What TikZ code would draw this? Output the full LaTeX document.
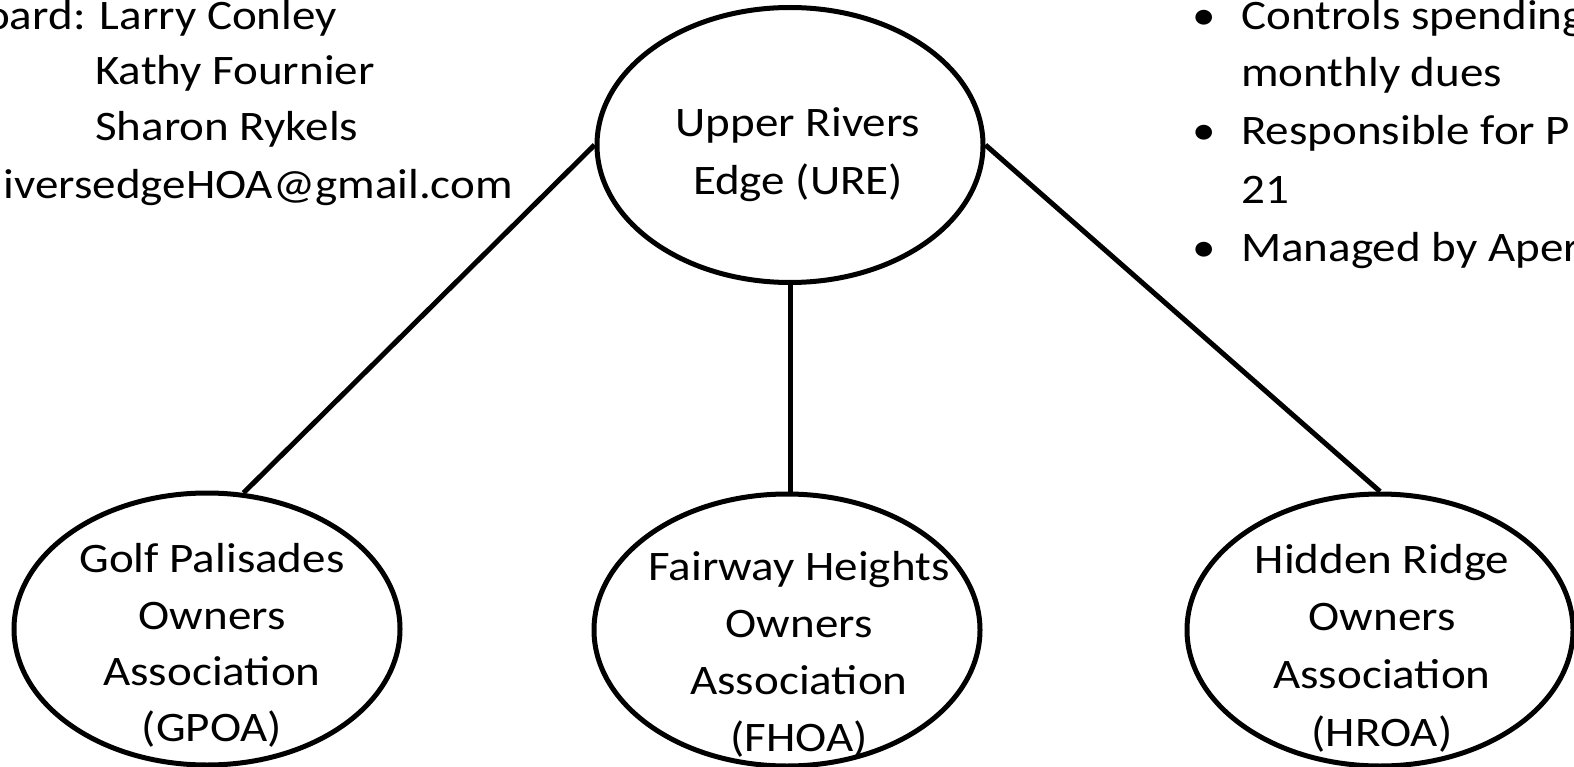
\documentclass[tikz,border=0pt]{standalone}
\usepackage{fontspec}
\setmainfont{Carlito}[FakeStretch=1.12]
\usetikzlibrary{shapes.geometric}
\begin{document}
\begin{tikzpicture}[x=1pt,y=-1pt,
  oval/.style={draw, ellipse, line width=5pt, minimum width=386pt, minimum height=272pt, inner sep=0pt},
  txt/.style={font=\fontsize{42}{57}\selectfont, inner sep=0pt, anchor=base},
  txtw/.style={txt, anchor=base west},
  txte/.style={txt, anchor=base east},
  link/.style={line width=5pt}]
\useasboundingbox (0,0) rectangle (1574,767);
\clip (0,0) rectangle (1574,767);
% ovals
\node[oval, minimum height=275pt] (ure) at (790,145) {};
\node[oval] (gpoa) at (207,629) {};
\node[oval] (fhoa) at (787,630) {};
\node[oval] (hroa) at (1380,630) {};
% connectors
\draw[link] (ure.west) -- (gpoa.75);
\draw[link] (ure.south) -- (ure.south |- fhoa.north);
\draw[link] (ure.east) -- (hroa.north);
% oval texts
\node[txt] (u1) at (798,137) {Upper Rivers};
\node[txt] (u2) at (798,195) {Edge (URE)};
\node[txt] (g1) at (212,572) {Golf Palisades};
\node[txt] (g2) at (212,629) {Owners};
\node[txt] (g3) at (212,685) {Association};
\node[txt] (g4) at (212,741) {(GPOA)};
\node[txt] (f1) at (799,580) {Fairway Heights};
\node[txt] (f2) at (799,637) {Owners};
\node[txt] (f3) at (799,694) {Association};
\node[txt] (f4) at (799,751) {(FHOA)};
\node[txt] (h1) at (1382,573) {Hidden Ridge};
\node[txt] (h2) at (1382,630) {Owners};
\node[txt] (h3) at (1382,688) {Association};
\node[txt] (h4) at (1382,746) {(HROA)};
% left board text
\node[txtw] (b1) at (-15,30) {oard: Larry Conley};
\node[txtw] (b2) at (95,85) {Kathy Fournier};
\node[txtw] (b3) at (95,141) {Sharon Rykels};
\node[txte] (b4) at (513,199) {iversedgeHOA@gmail.com};
% right bullet list
\node[txtw] (d1) at (1192,30) {•};
\node[txtw] (r1) at (1241,30) {Controls spending};
\node[txtw] (r2) at (1241,87) {monthly dues};
\node[txtw] (d2) at (1192,145) {•};
\node[txtw] (r3) at (1241,145) {Responsible for P};
\node[txtw] (r4) at (1241,204) {21};
\node[txtw] (d3) at (1192,262) {•};
\node[txtw] (r5) at (1241,262) {Managed by Aper};
\end{tikzpicture}
\end{document}
